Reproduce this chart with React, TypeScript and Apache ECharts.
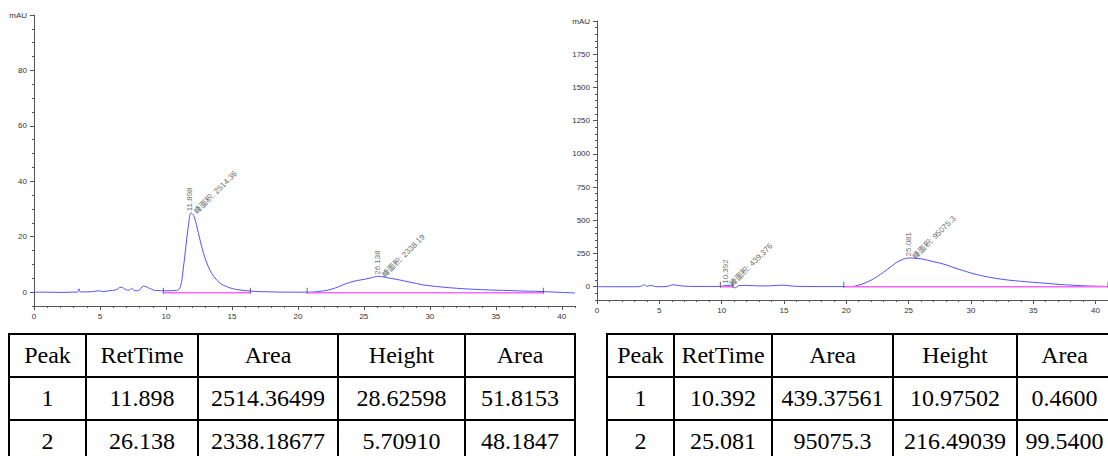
import { useEffect, useRef } from 'react';
import * as echarts from 'echarts';

// ---------- Left chromatogram ----------
const leftTime = [0, 1, 2, 3, 3.3, 3.4, 3.5, 4, 4.5, 4.9, 5.2, 5.7, 6.2, 6.6, 7.0, 7.2, 7.4, 7.6, 7.9, 8.3, 8.7, 9.2, 10, 10.8, 11.1, 11.3, 11.5, 11.7, 11.9, 12.1, 12.3, 12.6, 12.85, 13.1, 13.35, 13.6, 14.1, 14.6, 15.1, 15.6, 16.1, 16.6, 17, 18, 19, 20, 21, 21.5, 22, 22.5, 23, 23.5, 24, 24.5, 25, 25.5, 26.1, 26.6, 27, 27.5, 28, 28.5, 29, 29.5, 30, 31, 32, 33, 34, 35, 36, 37, 38, 39, 40, 41];
const leftSignal = [0, 0, -0.1, 0, 0, 1.2, 0.1, 0.1, 0.2, 0.5, 0.2, 0.5, 0.8, 1.8, 0.8, 0.7, 1.4, 0.6, 0.5, 2.2, 1.5, 0.6, 0.5, 0.6, 2, 8, 16, 24, 28.6, 27.6, 24.5, 18.5, 14, 10.5, 7.8, 5.8, 3.2, 2.0, 1.2, 0.8, 0.5, 0.3, 0.2, 0.1, 0, 0, 0, 0.2, 0.5, 1.0, 1.8, 2.8, 3.6, 4.2, 4.6, 5.1, 5.7, 5.4, 5.0, 4.6, 4.1, 3.6, 3.1, 2.6, 2.3, 1.8, 1.4, 1.1, 0.9, 0.7, 0.6, 0.4, 0.3, 0.1, -0.1, -0.3];
const leftBaseStart = [9.8, 20.7];
const leftBaseEnd = [16.4, 38.6];
const leftPeakNo = ['1', '2'];
const leftRetTime = ['11.898', '26.138'];
const leftArea = ['2514.36499', '2338.18677'];
const leftHeight = ['28.62598', '5.70910'];
const leftAreaPct = ['51.8153', '48.1847'];
const leftAreaNote = ['峰面积: 2514.36', '峰面积: 2338.19'];
const leftYTicks = [0, 20, 40, 60, 80, 100];

// ---------- Right chromatogram ----------
const rightTime = [0, 1, 2, 3, 3.5, 3.8, 4.0, 4.3, 4.6, 5, 5.6, 6.1, 6.6, 7, 8, 9, 10, 10.4, 10.8, 11.1, 11.4, 12, 13, 14, 15, 15.5, 16, 17, 18, 19, 20, 20.5, 21, 21.5, 22, 22.5, 23, 23.5, 24, 24.5, 25, 25.5, 26, 26.5, 27, 27.5, 28, 28.5, 29, 29.5, 30, 31, 32, 33, 34, 35, 36, 37, 38, 39, 40, 41];
const rightSignal = [0, 0, 0, 0, 2, 15, 3, 10, 3, 0, 2, 14, 8, 4, 2, 2, 4, 10, 6, -8, 8, 10, 6, 7, 12, 6, 3, 2, 1, 1, 1, 2, 12, 28, 50, 78, 110, 145, 180, 205, 216, 215, 210, 200, 188, 178, 165, 148, 132, 118, 103, 80, 63, 50, 41, 33, 26, 18, 12, 7, 4, 2];
const rightBaseStart = [9.9, 19.8];
const rightBaseEnd = [10.9, 41];
const rightPeakNo = ['1', '2'];
const rightRetTime = ['10.392', '25.081'];
const rightArea = ['439.37561', '95075.3'];
const rightHeight = ['10.97502', '216.49039'];
const rightAreaPct = ['0.4600', '99.5400'];
const rightAreaNote = ['峰面积: 439.376', '峰面积: 95075.3'];
const rightYTicks = [0, 250, 500, 750, 1000, 1250, 1500, 1750, 2000];

const xTicks = [0, 5, 10, 15, 20, 25, 30, 35, 40];
const tableHeaders = ['Peak', 'RetTime', 'Area', 'Height', 'Area'];

const AXIS = '#555';
const TRACE = '#5252ff';
const BASE = '#ff66ff';
const SANS = 'Arial, "Liberation Sans", "Noto Sans CJK SC", sans-serif';

function pairs(xs: number[], ys: number[]) {
  return xs.map((x, i) => [x, ys[i]]);
}

function mainX(gridIndex: number) {
  return {
    type: 'value', gridIndex, min: 0, max: 41, position: 'bottom',
    axisLine: { show: true, onZero: false, lineStyle: { color: AXIS, width: 1 } },
    axisTick: { show: true, length: 4, customValues: xTicks, lineStyle: { color: AXIS } },
    axisLabel: { customValues: xTicks, fontSize: 8, margin: 6, color: '#333', fontFamily: SANS },
    splitLine: { show: false },
  };
}
function minorX(gridIndex: number) {
  return {
    type: 'value', gridIndex, min: 0, max: 41, interval: 1, position: 'bottom',
    axisLine: { show: false, onZero: false },
    axisTick: { show: true, length: 2, lineStyle: { color: AXIS } },
    axisLabel: { show: false },
    splitLine: { show: false },
  };
}
function mainY(gridIndex: number, min: number, max: number, ticks: number[]) {
  return {
    type: 'value', gridIndex, min, max, position: 'left',
    axisLine: { show: true, onZero: false, lineStyle: { color: AXIS, width: 1 } },
    axisTick: { show: true, length: 4, customValues: ticks, lineStyle: { color: AXIS } },
    axisLabel: {
      customValues: ticks, fontSize: 8, margin: 7, color: '#333', fontFamily: SANS,
      formatter: (v: number) => (v === max ? 'mAU' : String(v)),
    },
    splitLine: { show: false },
  };
}
function minorY(gridIndex: number, min: number, max: number, interval: number) {
  return {
    type: 'value', gridIndex, min, max, interval, position: 'left',
    axisLine: { show: false, onZero: false },
    axisTick: { show: true, length: 2, lineStyle: { color: AXIS } },
    axisLabel: { show: false },
    splitLine: { show: false },
  };
}

function traceSeries(axis: number, xs: number[], ys: number[]) {
  return {
    type: 'line', xAxisIndex: axis, yAxisIndex: axis, data: pairs(xs, ys),
    symbol: 'none', smooth: 0.35, lineStyle: { color: TRACE, width: 1 }, silent: true, z: 2,
  };
}
function baselineSeries(axis: number, starts: number[], ends: number[], level: number) {
  const data: (number[] | null)[] = [];
  starts.forEach((s, i) => {
    data.push([s, level], [ends[i], level]);
    if (i < starts.length - 1) data.push(null as any);
  });
  return {
    type: 'line', xAxisIndex: axis, yAxisIndex: axis, data: data.map((d) => (d ? d : '-')),
    connectNulls: false, symbol: 'none', lineStyle: { color: BASE, width: 1.5 }, silent: true, z: 3,
  };
}
function markerSeries(axis: number, starts: number[], ends: number[], level: number) {
  const pts = starts.concat(ends).map((x) => [x, level]);
  return {
    type: 'scatter', xAxisIndex: axis, yAxisIndex: axis, data: pts,
    symbol: 'rect', symbolSize: [1, 6], symbolOffset: [0, -2], itemStyle: { color: '#444' }, silent: true, z: 4,
  };
}
function labelSeries(axis: number, xs: number[], ys: number[], texts: string[], rotate: number, offset: number[]) {
  return {
    type: 'scatter', xAxisIndex: axis, yAxisIndex: axis, symbolSize: 1,
    itemStyle: { color: 'rgba(0,0,0,0)' }, silent: true, z: 5,
    data: xs.map((x, i) => ({ value: [x, ys[i]], label: { formatter: texts[i] } })),
    label: {
      show: true, position: 'top', distance: 1, rotate, align: 'left', verticalAlign: 'middle',
      fontSize: 8, color: '#444', fontFamily: SANS, offset,
    },
  };
}

const leftPeakX = leftRetTime.map(Number);
const leftPeakY = leftHeight.map(Number);
const rightPeakX = rightRetTime.map(Number);
const rightPeakY = rightHeight.map(Number);

const option: any = {
  animation: false,
  backgroundColor: '#fff',
  grid: [
    { left: 34, top: 15, width: 541, height: 291 },
    { left: 597, top: 21, width: 519, height: 279 },
  ],
  xAxis: [mainX(0), minorX(0), mainX(1), minorX(1)],
  yAxis: [
    mainY(0, -5, 100, leftYTicks), minorY(0, -5, 100, 5),
    mainY(1, -100, 2000, rightYTicks), minorY(1, -100, 2000, 50),
  ],
  series: [
    traceSeries(0, leftTime, leftSignal),
    baselineSeries(0, leftBaseStart, leftBaseEnd, -0.2),
    markerSeries(0, leftBaseStart, leftBaseEnd, -0.2),
    labelSeries(0, leftPeakX, leftPeakY, leftRetTime, 90, [0, -1]),
    labelSeries(0, leftPeakX, leftPeakY, leftAreaNote, 45, [2, 4]),
    traceSeries(2, rightTime, rightSignal),
    baselineSeries(2, rightBaseStart, rightBaseEnd, 0),
    markerSeries(2, rightBaseStart, rightBaseEnd, 0),
    labelSeries(2, rightPeakX, rightPeakY, rightRetTime, 90, [0, -1]),
    labelSeries(2, rightPeakX, rightPeakY, rightAreaNote, 45, [2, 4]),
  ],
};

function PeakTable(props: { left: number; top: number; widths: number[]; rows: string[][] }) {
  const { left, top, widths, rows } = props;
  const cell: any = {
    border: '2px solid #000', padding: 0, textAlign: 'center', verticalAlign: 'middle', whiteSpace: 'nowrap', overflow: 'hidden',
  };
  return (
    <table
      style={{
        position: 'absolute', left, top, borderCollapse: 'collapse', tableLayout: 'fixed',
        width: widths.reduce((a, b) => a + b, 0),
        fontFamily: '"Liberation Serif", "Times New Roman", serif', fontSize: 24, color: '#000',
      }}
    >
      <colgroup>
        {widths.map((w, i) => (
          <col key={i} style={{ width: w }} />
        ))}
      </colgroup>
      <tbody>
        <tr style={{ height: 43 }}>
          {tableHeaders.map((h, i) => (
            <td key={i} style={cell}>{h}</td>
          ))}
        </tr>
        {rows.map((r, ri) => (
          <tr key={ri} style={{ height: 43 }}>
            {r.map((c, ci) => (
              <td key={ci} style={cell}>{c}</td>
            ))}
          </tr>
        ))}
      </tbody>
    </table>
  );
}

function buildRows(a: string[], b: string[], c: string[], d: string[], e: string[]) {
  return a.map((_, i) => [a[i], b[i], c[i], d[i], e[i]]);
}

export default function App() {
  const ref = useRef<HTMLDivElement>(null);
  useEffect(() => {
    const chart = echarts.init(ref.current as HTMLDivElement, null, { renderer: 'svg' });
    chart.setOption(option);
    return () => chart.dispose();
  }, []);
  return (
    <div style={{ position: 'absolute', left: 0, top: 0, width: 1108, height: 456, background: '#fff', overflow: 'hidden' }}>
      <div ref={ref} style={{ position: 'absolute', left: 0, top: 0, width: 1108, height: 326 }} />
      <PeakTable
        left={8}
        top={333}
        widths={[77, 112, 140, 127, 110]}
        rows={buildRows(leftPeakNo, leftRetTime, leftArea, leftHeight, leftAreaPct)}
      />
      <PeakTable
        left={606}
        top={333}
        widths={[67, 98, 121, 124, 95]}
        rows={buildRows(rightPeakNo, rightRetTime, rightArea, rightHeight, rightAreaPct)}
      />
    </div>
  );
}
